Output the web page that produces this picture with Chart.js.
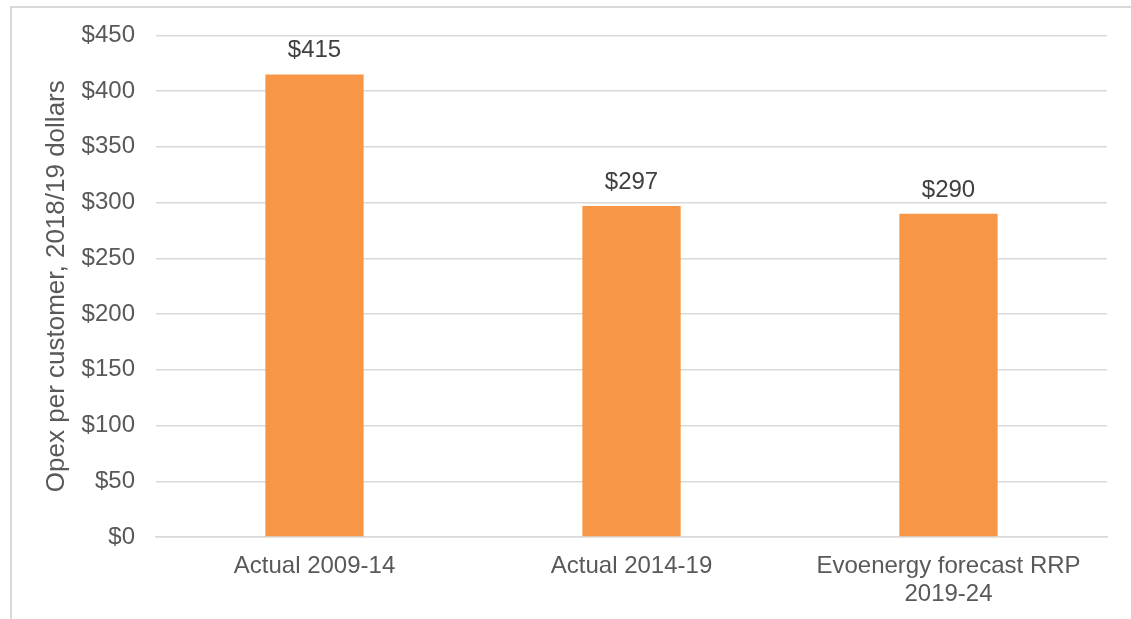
<!DOCTYPE html>
<html>
<head>
<meta charset="utf-8">
<script src="https://cdn.jsdelivr.net/npm/chart.js@4"></script>
<style>
  html, body { margin: 0; padding: 0; background: #fff; }
  #frame { position: absolute; left: 10px; top: 6px; width: 1200px; height: 700px; border: 2px solid #d9d9d9; box-sizing: border-box; }
  #wrap { position: absolute; left: 0; top: 0; width: 1131px; height: 619px; }
</style>
</head>
<body>
<div id="frame"></div>
<div id="wrap"><canvas id="myChart"></canvas></div>
<script>
const categories = ['Actual 2009-14', 'Actual 2014-19', ['Evoenergy forecast RRP', '2019-24']];
const opexPerCustomer = [415, 297, 290];
const yTicks = [0, 50, 100, 150, 200, 250, 300, 350, 400, 450];

const FONT = '"Liberation Sans", Arial, sans-serif';

// draws the $ value above each bar
const valueLabels = {
    id: 'valueLabels',
    afterDatasetsDraw(chart) {
        const ctx = chart.ctx;
        ctx.save();
        ctx.font = '24px ' + FONT;
        ctx.fillStyle = '#404040';
        ctx.textAlign = 'center';
        ctx.textBaseline = 'alphabetic';
        chart.getDatasetMeta(0).data.forEach((bar, i) => {
            ctx.fillText('$' + opexPerCustomer[i], bar.x, bar.y - 17);
        });
        ctx.restore();
    }
};

const chartCanvas = document.getElementById('myChart').getContext('2d');
new Chart(chartCanvas, {
    type: 'bar',
    data: {
        labels: categories,
        datasets: [{
            data: opexPerCustomer,
            backgroundColor: '#F79646',
            categoryPercentage: 1,
            barPercentage: 0.31
        }]
    },
    options: {
        responsive: true,
        maintainAspectRatio: false,
        animation: false,
        layout: { padding: { top: 35, right: 24, left: 0, bottom: 0 } },
        plugins: {
            legend: { display: false },
            tooltip: { enabled: false }
        },
        scales: {
            x: {
                grid: { display: false },
                border: { color: '#d9d9d9', width: 1.5 },
                ticks: { color: '#595959', font: { family: FONT, size: 24, lineHeight: 1.17 }, padding: 7, maxRotation: 0 },
                afterFit(scale) { scale.height = 82; }
            },
            y: {
                min: 0,
                max: 450,
                afterBuildTicks(scale) { scale.ticks = yTicks.map(v => ({ value: v })); },
                grid: { color: '#d9d9d9', lineWidth: 1.5, drawTicks: false },
                border: { display: false },
                ticks: {
                    color: '#595959',
                    font: { family: FONT, size: 24 },
                    padding: 21,
                    callback: v => '$' + v
                },
                title: {
                    display: true,
                    text: 'Opex per customer, 2018/19 dollars',
                    color: '#595959',
                    font: { family: FONT, size: 26 },
                    padding: { top: 41, bottom: 0 }
                },
                afterFit(scale) { scale.width = 156; }
            }
        }
    },
    plugins: [valueLabels]
});
</script>
</body>
</html>
